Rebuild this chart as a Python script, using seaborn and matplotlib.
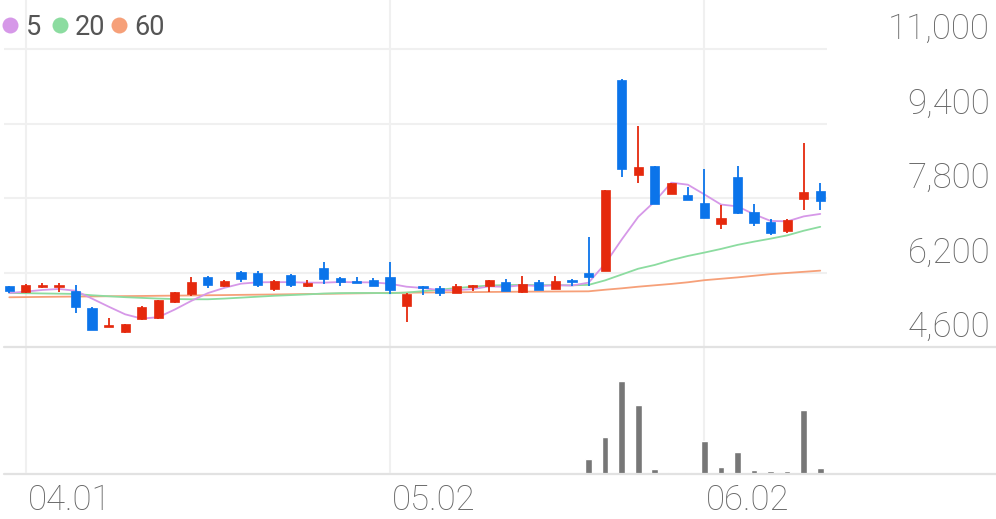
import matplotlib
matplotlib.use("Agg")
import matplotlib.pyplot as plt
from matplotlib.lines import Line2D
from matplotlib.transforms import blended_transform_factory
import seaborn as sns
import numpy as np
import pandas as pd

# ---------------- data ----------------
opens = [5910, 5780, 5900, 5900, 5800, 5440, 5030, 4920, 5200, 5220,
         5570, 5740, 6110, 5910, 6220, 6200, 5840, 6150, 5900, 6300,
         6090, 6010, 6040, 6110, 5470, 5900, 5860, 5770, 5900, 5900,
         6000, 5790, 5990, 5850, 6040, 6200, 6240, 10330, 8290, 8490,
         7890, 7870, 7700, 7240, 8260, 7510, 7290, 7090, 7780, 7960]
highs = [5915, 5950, 5970, 5970, 5930, 5450, 5230, 5100, 5470, 5620,
         5790, 6100, 6120, 6030, 6230, 6230, 6030, 6170, 6040, 6430,
         6100, 6100, 6080, 6430, 5770, 5910, 5910, 5950, 5940, 6040,
         6060, 6130, 6040, 6130, 6050, 6970, 7980, 10350, 9350, 8490,
         8120, 8030, 8420, 7650, 8490, 7670, 7340, 7350, 8980, 8130]
lows = [5770, 5770, 5870, 5790, 5330, 4960, 5020, 4900, 5190, 5210,
        5540, 5690, 5860, 5880, 6000, 5880, 5800, 5880, 5890, 5950,
        5900, 5980, 5910, 5730, 5140, 5720, 5700, 5760, 5810, 5790,
        5800, 5770, 5820, 5840, 5920, 5910, 6230, 8260, 8120, 7670,
        7880, 7750, 7370, 7130, 7450, 7200, 7010, 7040, 7540, 7540]
closes = [5800, 5930, 5920, 5920, 5460, 4970, 5070, 5090, 5460, 5610,
          5790, 6000, 5930, 6020, 6050, 5930, 6020, 5930, 5970, 6050,
          6000, 5990, 5920, 5820, 5740, 5860, 5770, 5920, 5930, 6040,
          5800, 5950, 5820, 6020, 6000, 6110, 7970, 8420, 8460, 7670,
          8120, 7760, 7380, 7380, 7470, 7270, 7040, 7330, 7920, 7740]
volumes = [50000, 100000, 50000, 50000, 100000, 100000, 50000, 50000, 50000, 50000,
           50000, 120000, 50000, 50000, 60000, 60000, 50000, 50000, 50000, 100000,
           50000, 50000, 50000, 120000, 120000, 50000, 50000, 50000, 50000, 100000,
           70000, 120000, 80000, 80000, 80000, 1500000, 3700000, 9300000, 6900000, 500000,
           230000, 230000, 3300000, 700000, 2200000, 430000, 270000, 330000, 6400000, 600000]
ma5 = [5760, 5790, 5825, 5846, 5808, 5639, 5467, 5302, 5210, 5240,
       5405, 5591, 5758, 5871, 5960, 5989, 5993, 5993, 5982, 5982,
       5996, 5990, 5987, 5959, 5895, 5867, 5821, 5821, 5843, 5903,
       5891, 5928, 5909, 5927, 5920, 5982, 6387, 6906, 7394, 7727,
       8129, 8086, 7877, 7660, 7620, 7451, 7308, 7298, 7405, 7458]
ma20 = [5760, 5755, 5750, 5745, 5740, 5711, 5690, 5670, 5655, 5640,
        5630, 5625, 5625, 5640, 5660, 5680, 5700, 5715, 5730, 5748,
        5757, 5760, 5760, 5755, 5769, 5800, 5830, 5865, 5895, 5920,
        5930, 5933, 5928, 5928, 5925, 5934, 6031, 6156, 6281, 6362,
        6467, 6555, 6628, 6706, 6793, 6863, 6927, 6997, 7097, 7181]
ma60 = [5668, 5672, 5676, 5680, 5683, 5686, 5690, 5693, 5696, 5700,
        5703, 5707, 5711, 5715, 5720, 5724, 5728, 5733, 5738, 5742,
        5747, 5752, 5757, 5762, 5766, 5770, 5773, 5776, 5779, 5782,
        5785, 5788, 5790, 5792, 5794, 5796, 5830, 5860, 5895, 5925,
        5955, 5990, 6035, 6065, 6095, 6130, 6165, 6190, 6215, 6240]
tick_idx = [1, 23, 42]
tick_labels = ["04.01", "05.02", "06.02"]
y_ticks = [4600, 6200, 7800, 9400, 11000]
ma_names = ["5", "20", "60"]

# ---------------- style ----------------
sns.set_theme(style="white")
plt.rcParams["font.family"] = ["Roboto", "DejaVu Sans"]

RED = "#e5290d"
BLUE = "#0b74ea"
MA_COLORS = ["#d698e8", "#8cdca0", "#f6a079"]
GRID = "#f0f0f0"
AXLINE = "#e2e2e2"
TXT = "#666666"

W, H = 996, 519
fig = plt.figure(figsize=(W / 100, H / 100), dpi=100)
fig.patch.set_facecolor("white")

def fx(px):
    return px / W

def fy(py):
    return (H - py) / H

x_left, x_right = 4, 827
ax_p = fig.add_axes([fx(x_left), fy(347), fx(x_right - x_left), 347 / H])
ax_v = fig.add_axes([fx(x_left), fy(474), fx(x_right - x_left), 127 / H])

n = len(closes)
idx = np.arange(n)
step = 16.55
x0 = (x_left - 9.3) / step
x1 = (x_right - 9.3) / step

df = pd.DataFrame({"i": idx, "open": opens, "high": highs, "low": lows,
                   "close": closes, "vol": volumes,
                   "ma5": ma5, "ma20": ma20, "ma60": ma60})

y_per_px = 1600 / 74.5
y_lo = 4600
y_hi = 4600 + 347 * y_per_px

for ax in (ax_p, ax_v):
    ax.set_xlim(x0, x1)
    for s in ax.spines.values():
        s.set_visible(False)
    ax.set_xticks([])
    ax.set_yticks([])
    ax.set_facecolor("none")
    for t in tick_idx:
        ax.axvline(t, color=GRID, lw=1.5, zorder=0)

ax_p.set_ylim(y_lo, y_hi)
for yt in y_ticks[1:]:
    ax_p.axhline(yt, color=GRID, lw=1.5, zorder=0)

# moving averages (seaborn)
for col, c in zip(["ma60", "ma20", "ma5"], [MA_COLORS[2], MA_COLORS[1], MA_COLORS[0]]):
    sns.lineplot(data=df, x="i", y=col, ax=ax_p, color=c, lw=1.3, zorder=2)
ax_p.set_xlabel("")
ax_p.set_ylabel("")

# candles
min_body = 1.6 * y_per_px
for i, o, h, l, c in zip(idx, opens, highs, lows, closes):
    col = RED if c >= o else BLUE
    ax_p.vlines(i, l, h, color=col, lw=1.3, zorder=3)
    b = abs(c - o)
    bottom = min(o, c)
    if b < min_body:
        bottom = (o + c) / 2 - min_body / 2
        b = min_body
    ax_p.bar(i, b, bottom=bottom, width=0.55, color=col, edgecolor=col, lw=0.5, zorder=4)

# volume
ax_v.set_ylim(0, 12.7e6)
ax_v.bar(idx, volumes, width=0.4, color="#777777", zorder=3)
ax_v.set_xlabel("")
ax_v.set_ylabel("")

# full-width separator and baseline
for py in (347, 474):
    fig.add_artist(Line2D([fx(x_left), 1.0], [fy(py), fy(py)], transform=fig.transFigure,
                          color=AXLINE, lw=1.6, zorder=1))

# right price labels (above their gridline)
tr = blended_transform_factory(fig.transFigure, ax_p.transData)
for yt in y_ticks:
    ax_p.text(fx(990), yt + 10 * y_per_px, f"{yt:,}", transform=tr, ha="right", va="baseline",
              fontsize=25, color=TXT, fontweight="light", clip_on=False)

# x labels (left aligned at grid lines)
trx = blended_transform_factory(ax_v.transData, fig.transFigure)
for t, lab in zip(tick_idx, tick_labels):
    ax_v.text(t + 0.1, fy(510), lab, transform=trx, ha="left", va="baseline",
              fontsize=25, color=TXT, fontweight="light", clip_on=False)

# legend
leg_pos = [(10, 27), (60, 76), (119, 135)]
for (cx, tx), name, c in zip(leg_pos, ma_names, MA_COLORS):
    fig.add_artist(Line2D([fx(cx)], [fy(25)], transform=fig.transFigure, marker="o",
                          markersize=11.5, color=c, markeredgewidth=0, linestyle="none"))
    fig.text(fx(tx - 1), fy(35), name, fontsize=19.5, color="#555555", ha="left",
             va="baseline", fontweight="normal")

fig.savefig("out.png", dpi=100, facecolor="white")
